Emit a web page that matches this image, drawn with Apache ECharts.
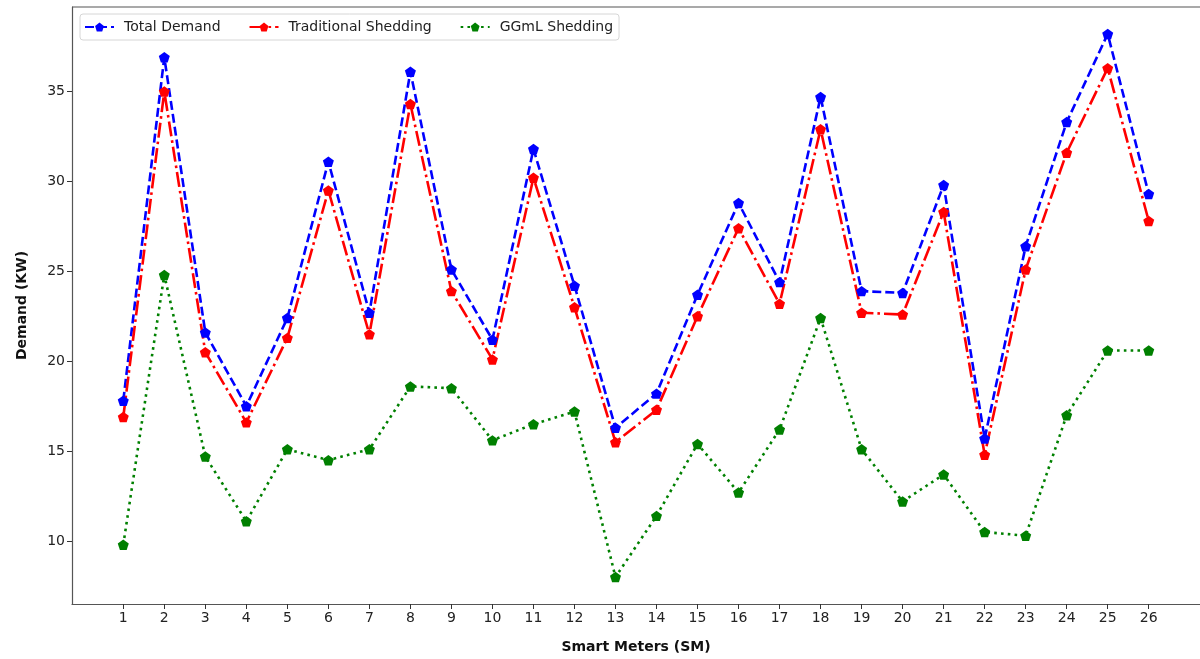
<!DOCTYPE html>
<html>
<head>
<meta charset="utf-8">
<script src="https://cdn.jsdelivr.net/npm/echarts@6/dist/echarts.min.js"></script>
<style>
  html, body { margin: 0; padding: 0; background: #fff; }
  #chart { width: 1200px; height: 659px; }
</style>
</head>
<body>
<div id="chart"></div>
<script>
// Smart meter demand per meter (kW)
const meters = [1, 2, 3, 4, 5, 6, 7, 8, 9, 10, 11, 12, 13, 14, 15, 16, 17, 18, 19, 20, 21, 22, 23, 24, 25, 26];
const totalDemand = [17.8, 36.9, 21.6, 17.5, 22.4, 31.1, 22.7, 36.1, 25.1, 21.2, 31.8, 24.2, 16.3, 18.2, 23.7, 28.8, 24.4, 34.7, 23.9, 23.8, 29.8, 15.7, 26.4, 33.3, 38.2, 29.3];
const traditionalShedding = [16.9, 35.0, 20.5, 16.6, 21.3, 29.5, 21.5, 34.3, 23.9, 20.1, 30.2, 23.0, 15.5, 17.3, 22.5, 27.4, 23.2, 32.9, 22.7, 22.6, 28.3, 14.8, 25.1, 31.6, 36.3, 27.8];
const ggmlShedding = [9.8, 24.8, 14.7, 11.1, 15.1, 14.5, 15.1, 18.6, 18.5, 15.6, 16.5, 17.2, 8.0, 11.4, 15.4, 12.7, 16.2, 22.4, 15.1, 12.2, 13.7, 10.5, 10.3, 17.0, 20.6, 20.6];
const yTicks = [10, 15, 20, 25, 30, 35];

const pentagon = 'path://M0,-1L0.951,-0.309L0.588,0.809L-0.588,0.809L-0.951,-0.309Z';
const font = 'DejaVu Sans';

function pairs(values) {
  return values.map((v, i) => [meters[i], v]);
}

function makeSeries(name, values, color, dash) {
  return {
    name: name,
    type: 'line',
    data: pairs(values),
    symbol: pentagon,
    symbolKeepAspect: true,
    symbolSize: 11,
    showAllSymbol: true,
    animation: false,
    itemStyle: { color: color, borderWidth: 0 },
    lineStyle: { color: color, width: 2.6, type: dash, cap: 'butt' },
    emphasis: { disabled: true }
  };
}

const chart = echarts.init(document.getElementById('chart'), null, { renderer: 'canvas' });
chart.setOption({
  backgroundColor: '#ffffff',
  textStyle: { fontFamily: font },
  grid: { left: 72, top: 7, width: 1130, height: 598, containLabel: false },
  legend: {
    left: 80,
    top: 14,
    orient: 'horizontal',
    itemWidth: 29,
    itemHeight: 11,
    itemGap: 28,
    padding: [6, 6, 6, 4],
    borderColor: '#d6d6d6',
    borderWidth: 1,
    borderRadius: 3,
    backgroundColor: 'rgba(255,255,255,0.85)',
    textStyle: { fontFamily: font, fontSize: 14, color: '#222', padding: [0, 0, 0, 5] },
    data: ['Total Demand', 'Traditional Shedding', 'GGmL Shedding']
  },
  xAxis: {
    type: 'value',
    min: -0.25,
    max: 27.25,
    name: 'Smart Meters (SM)',
    nameLocation: 'middle',
    nameGap: 36,
    nameTextStyle: { fontFamily: font, fontSize: 14, fontWeight: 'bold', color: '#111' },
    splitLine: { show: false },
    axisLine: { show: true, onZero: false, lineStyle: { color: '#555', width: 1.2 } },
    axisTick: { show: true, length: 5, inside: false, customValues: meters, lineStyle: { color: '#333', width: 1 } },
    axisLabel: { customValues: meters, fontFamily: font, fontSize: 14, color: '#222', margin: 7 }
  },
  yAxis: {
    type: 'value',
    min: 6.5,
    max: 39.7,
    name: 'Demand (KW)',
    nameLocation: 'middle',
    nameGap: 43,
    nameRotate: 90,
    nameTextStyle: { fontFamily: font, fontSize: 14, fontWeight: 'bold', color: '#111' },
    splitLine: { show: false },
    axisLine: { show: true, onZero: false, lineStyle: { color: '#555', width: 1.2 } },
    axisTick: { show: true, length: 5, inside: false, customValues: yTicks, lineStyle: { color: '#333', width: 1 } },
    axisLabel: { customValues: yTicks, fontFamily: font, fontSize: 14, color: '#222', margin: 7 }
  },
  graphic: [{
    // top frame line of the plot area
    type: 'line',
    shape: { x1: 72, y1: 7, x2: 1200, y2: 7 },
    style: { stroke: '#555', lineWidth: 1.2 },
    silent: true
  }],
  series: [
    makeSeries('Total Demand', totalDemand, '#0000ff', [9, 4]),
    makeSeries('Traditional Shedding', traditionalShedding, '#ff0000', [15, 4, 2.6, 4]),
    makeSeries('GGmL Shedding', ggmlShedding, '#008000', [2.6, 4.2])
  ]
});
</script>
</body>
</html>
